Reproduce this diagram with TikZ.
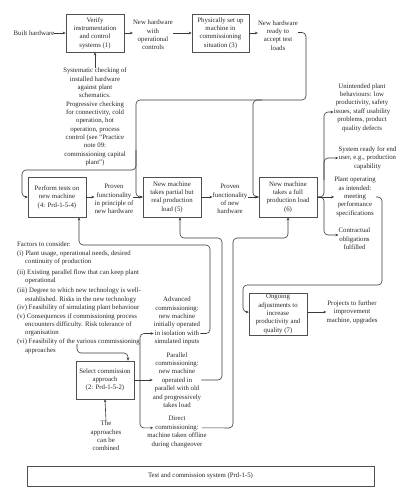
\documentclass[tikz,border=0pt]{standalone}
\usepackage{fontspec}
\setmainfont{Liberation Serif}
\usetikzlibrary{arrows.meta,calc,shadows}
\definecolor{linec}{HTML}{3A3A3A}
\definecolor{boxc}{HTML}{505050}
\begin{document}
\begin{tikzpicture}[x=1pt,y=-1pt,
  font=\fontsize{6.8}{8.35}\selectfont,
  box/.style={draw=boxc, line width=0.7pt, minimum width=58pt, minimum height=40pt, align=center, inner sep=0.5pt, text=black!85},
  txt/.style={align=center, inner sep=0pt, text=black!85},
  arr/.style={draw=linec, line width=0.6pt, -{Stealth[length=3pt,width=2.6pt]}},
  ln/.style={draw=linec, line width=0.6pt},
  rc/.style={rounded corners=4pt}]
\useasboundingbox (0,0) rectangle (412,500);

% top row
\node[txt] (built) at (34,33) {Built hardware};
\node[box, minimum height=38pt] (b1) at (95,33) {Verify\\instrumentation\\and control\\systems (1)};
\node[txt] (nh) at (153,35) {New hardware\\with\\operational\\controls};
\node[box, minimum width=57pt, minimum height=38pt] (b3) at (220.5,33) {Physically set up\\machine in\\commissioning\\situation (3)};
\node[txt] (ready) at (278,35.5) {New hardware\\ready to\\accept test\\loads};
\node[txt] (sys) at (95,117) {Systematic checking of\\installed hardware\\against plant\\schematics.\\Progressive checking\\for connectivity, cold\\operation, hot\\operation, process\\control (see ``Practice\\note 09:\\commissioning capital\\plant'')};

\draw[arr] (built) -- (b1);
\draw[arr] (b1.east) -- (b1.east -| nh.west);
\draw[arr] (nh.east |- b3) -- (b3.west);
\draw[arr] (b3.east) -- (b3.east -| ready.west);
\draw[arr] (sys.north) -- (b1.south);

% middle row
\node[box] (b4) at (57,197) {Perform tests on\\new machine\\(4: Prd-1-5-4)};
\node[txt] (p1) at (114,199) {Proven\\functionality\\in principle of\\new hardware};
\node[box] (b5) at (172,197) {New machine\\takes partial but\\real production\\load (5)};
\node[txt] (p2) at (230,199) {Proven\\functionality\\of new\\hardware};
\node[box] (b6) at (288,197) {New machine\\takes a full\\production load\\(6)};

\coordinate (r0) at ($(ready.east)+(0,-3)$);
\draw[arr, rc] (r0) -- (306,32.5) -- (306,100) -- (136,100) -- (136,197) -- (b5.west);
\draw[arr, rc] (262,100) -- (253,100) -- (253,197) -- (b6.west);
\draw[arr, rc] (136,150) -- (136,170) -- (22,170) -- (22,197) -- (b4.west);

\draw[arr] (b4.east) -- (b4.east -| p1.west);
\draw[arr] (p1.east |- b5) -- (b5.west);
\draw[arr] (b5.east) -- (b5.east -| p2.west);
\draw[arr] (p2.east |- b6) -- (b6.west);

% right column
\node[txt] (un) at (362,107.5) {Unintended plant\\behaviours: low\\productivity, safety\\issues, staff usability\\problems, product\\quality defects};
\node[txt] (sr) at (367.5,158) {System ready for end\\user, e.g., production\\capability};
\node[txt] (po) at (355,197) {Plant operating\\as intended:\\meeting\\performance\\specifications};
\node[txt] (co) at (354.5,239) {Contractual\\obligations\\fulfilled};

\draw[arr] (b6.east) -- (po.west |- b6);
\draw[arr, rc] (b6.east) -- (324,197) -- (324,112) -- ($(un.west)+(0,4.5)$);
\draw[arr, rc] (324,180) -- (324,158) -- (sr.west);
\draw[arr, rc] (b6.east) -- (324,197) -- (324,235) -- ($(co.west)+(0,-4)$);

\node[box, minimum height=42pt] (b7) at (278,314) {Ongoing\\adjustments to\\increase\\productivity and\\quality (7)};
\node[txt] (pr) at (352,312) {Projects to further\\improvement\\machine, upgrades};
\draw[arr, rc] (po.east) -- (382,197) -- (382,285) -- (243,285) -- (243,312) -- ($(b7.west)+(0,-2)$);
\draw[arr] ($(b7.east)+(0,-2)$) -- (pr.west);

% factors
\node[anchor=north west, align=left, inner sep=0pt, text=black!85] (fac) at (17,241.5) {Factors to consider:\\[0.5pt]
(i) Plant usage, operational needs, desired\\
\hspace*{8pt}continuity of production\\[2.5pt]
(ii) Existing parallel flow that can keep plant\\
\hspace*{8pt}operational\\[1.5pt]
(iii) Degree to which new technology is well-\\
\hspace*{8pt}established. Risks in the new technology\\[0.5pt]
(iv) Feasibility of simulating plant behaviour\\
(v) Consequences if commissioning process\\
\hspace*{8pt}encounters difficulty. Risk tolerance of\\
\hspace*{8pt}organisation\\[0.5pt]
(vi) Feasibility of the various commissioning\\
\hspace*{8pt}approaches};

\node[box, minimum height=38pt] (b2) at (105,380) {Select commission\\approach\\(2: Prd-1-5-2)};
\node[txt] (ap) at (106,436) {The\\approaches\\can be\\combined};
\coordinate (fs) at (77,344);
\draw[arr, rc] (fs) -- (77,353) -- (128,353) -- ($(b2.north)+(23,0)$);
\draw[arr] (ap.north) -- (b2.south);

\node[txt] (adv) at (177,321) {Advanced\\commissioning:\\new machine\\initially operated\\in isolation with\\simulated inputs};
\node[txt] (par) at (177,380) {Parallel\\commissioning:\\new machine\\operated in\\parallel with old\\and progressively\\takes load};
\node[txt] (dir) at (177,432) {Direct\\commissioning:\\machine taken offline\\during changeover};

\draw[ln] (b2.east) -- (140,380);
\draw[arr, rc] (140,380) -- (140,333.5) -- ($(adv.west)+(0,12.5)$);
\draw[arr] (b2.east) -- (par.west);
\draw[arr, rc] (140,380) -- (140,428) -- ($(dir.west)+(6,-4.2)$);

\draw[arr, rc] ($(adv.east)+(0,12.5)$) -- (210,333.5) -- (210,245) -- (79,245) -- ($(b4.south)+(22,0)$);
\draw[arr, rc] (par.east) -- (222,380) -- (222,238) -- (180,238) -- ($(b5.south)+(8,0)$);
\draw[arr, rc] ($(dir.east)+(-5,-4.2)$) -- (233,428) -- (233,238) -- (288,238) -- (b6.south);

% bottom system box
\node[draw=boxc, line width=0.7pt, fill=white, minimum width=347pt, minimum height=20pt, text=black!85,
  drop shadow={shadow xshift=1.2pt, shadow yshift=-1.2pt, fill=gray!60, opacity=1}] (tc) at (200.5,476) {Test and commission system (Prd-1-5)};
\end{tikzpicture}
\end{document}
